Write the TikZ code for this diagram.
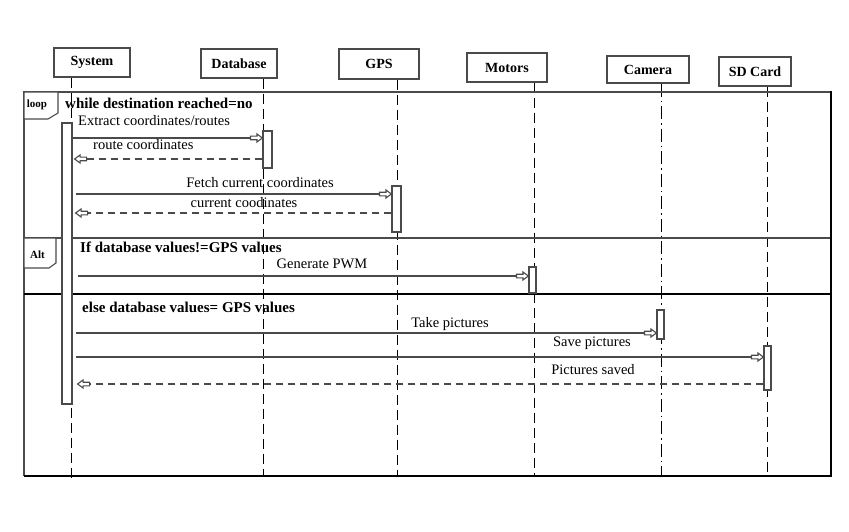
\documentclass[tikz,border=0pt]{standalone}
\usepackage{fontspec}
\setmainfont{Liberation Serif}
\usetikzlibrary{arrows.meta}
\pgfdeclarearrow{
  name = BlockOpen,
  setup code = {
    \pgfarrowssettipend{0pt}
    \pgfarrowssetlineend{-12pt}
    \pgfarrowssetbackend{-12pt}
    \pgfarrowssetvisualbackend{-12pt}
    \pgfarrowshullpoint{0pt}{0pt}
    \pgfarrowshullpoint{-12pt}{4pt}
    \pgfarrowshullpoint{-12pt}{-4pt}
  },
  drawing code = {
    \pgfsetdash{}{0pt}
    \pgfpathmoveto{\pgfpoint{0pt}{0pt}}
    \pgfpathlineto{\pgfpoint{-5.5pt}{4pt}}
    \pgfpathlineto{\pgfpoint{-5.5pt}{1.8pt}}
    \pgfpathlineto{\pgfpoint{-12pt}{1.8pt}}
    \pgfpathlineto{\pgfpoint{-12pt}{-1.8pt}}
    \pgfpathlineto{\pgfpoint{-5.5pt}{-1.8pt}}
    \pgfpathlineto{\pgfpoint{-5.5pt}{-4pt}}
    \pgfpathclose
    \pgfusepathqstroke
  }
}
\definecolor{ln}{HTML}{4A4A4A}
\tikzset{
  head/.style={draw=ln, line width=1.1pt, fill=white, inner sep=0pt,
    font=\fontsize{14}{16}\selectfont\bfseries},
  life/.style={draw=black, line width=1pt, dash pattern=on 10pt off 5pt},
  lifedd/.style={draw=black, line width=1pt, dash pattern=on 13pt off 4pt on 1.5pt off 4pt},
  act/.style={draw=ln, line width=1.1pt, fill=white, inner sep=0pt},
  msg/.style={draw=ln, line width=1.1pt, -{BlockOpen}},
  ret/.style={draw=ln, line width=1.1pt, dash pattern=on 7pt off 5pt, -{BlockOpen}},
  lbl/.style={inner sep=0pt, font=\fontsize{14.5}{17}\selectfont},
  cond/.style={inner sep=0pt, anchor=west, font=\fontsize{15}{17}\selectfont\bfseries},
  tag/.style={inner sep=0pt, font=\fontsize{11}{12}\selectfont\bfseries},
  frameline/.style={draw=ln, line width=1.1pt},
  thickline/.style={draw=black, line width=2pt}
}
\begin{document}
\begin{tikzpicture}[x=1pt,y=-1pt]
\useasboundingbox[fill=white] (0,0) rectangle (849,532);

% headers
\node[head, minimum width=76pt, minimum height=29pt] (sys) at (92,62.5) {System};
\node[head, minimum width=76pt, minimum height=29pt] (db) at (239,63.5) {Database};
\node[head, minimum width=80pt, minimum height=30pt] (gps) at (379,64) {GPS};
\node[head, minimum width=80pt, minimum height=29pt] (mot) at (507,67.5) {Motors};
\node[head, minimum width=82pt, minimum height=27pt] (cam) at (648,69.5) {Camera};
\node[head, minimum width=72pt, minimum height=29pt] (sd) at (755,71.5) {SD Card};

% lifeline ends
\coordinate (sysend) at (71,478);
\coordinate (dbend) at (263,476);
\coordinate (gpsend) at (397,476);
\coordinate (motend) at (534,476);
\coordinate (camend) at (661,476);
\coordinate (sdend) at (767,476);

\draw[life] (sys.south -| sysend) -- (sysend);
\draw[life] (db.south -| dbend) -- (dbend);
\draw[life] (gps.south -| gpsend) -- (gpsend);
\draw[life] (mot.south -| motend) -- (motend);
\draw[lifedd] (cam.south -| camend) -- (camend);
\draw[life] (sd.south -| sdend) -- (sdend);

% frames
\draw[frameline] (24,476) -- (24,92) -- (831,92);
\draw[frameline] (24,238) -- (831,238);
\draw[thickline] (24,294) -- (831,294);
\draw[draw=black, line width=1.8pt] (831,91.5) -- (831,476) -- (23.5,476);
\draw[frameline, fill=white] (24,92) -- (58,92) -- (58,113) -- (48,119) -- (24,119) -- cycle;
\draw[frameline, fill=white] (24,238) -- (56,238) -- (56,263) -- (49,268) -- (24,268) -- cycle;
\node[tag] (looptag) at (37,105) {loop};
\node[tag] (alttag) at (37.5,255) {Alt};

% activations
\node[act, minimum width=10pt, minimum height=281pt] (sysact) at (67,263.5) {};
\node[act, minimum width=9pt, minimum height=37pt] (dbact) at (267.5,149.5) {};
\node[act, minimum width=9pt, minimum height=46pt] (gpsact) at (396.5,209) {};
\node[act, minimum width=7pt, minimum height=26pt] (motact) at (532.5,280) {};
\node[act, minimum width=7pt, minimum height=29pt] (camact) at (660.5,324.5) {};
\node[act, minimum width=7pt, minimum height=44pt] (sdact) at (767.5,368) {};

% conditions
\node[cond] (c1) at (65,103) {while destination reached=no};
\node[cond] (c2) at (80,247) {If database values!=GPS values};
\node[cond] (c3) at (82,307) {else database values= GPS values};

% messages
\draw[msg] (sysact.east |- 0,138) -- (dbact.west |- 0,138);
\draw[ret] (dbact.west |- 0,159) -- ([xshift=2pt]sysact.east |- 0,159);
\draw[msg] ([xshift=3pt]sysact.east |- 0,194) -- (gpsact.west |- 0,194);
\draw[ret] (gpsact.west |- 0,213) -- ([xshift=3pt]sysact.east |- 0,213);
\draw[msg] ([xshift=5pt]sysact.east |- 0,276) -- (motact.west |- 0,276);
\draw[msg] ([xshift=3pt]sysact.east |- 0,333) -- (camact.west |- 0,333);
\draw[msg] ([xshift=3pt]sysact.east |- 0,357) -- (sdact.west |- 0,357);
\draw[ret] (sdact.west |- 0,384) -- ([xshift=5pt]sysact.east |- 0,384);

% message labels
\node[lbl, anchor=west] (m1) at (78,121) {Extract coordinates/routes};
\node[lbl, anchor=west] (m2) at (93,145) {route coordinates};
\node[lbl] (m3) at (260,183) {Fetch current coordinates};
\node[lbl] (m4) at (244,203) {current coodinates};
\node[lbl] (m5) at (322,264) {Generate PWM};
\node[lbl] (m6) at (450,324) {Take pictures};
\node[lbl] (m7) at (592,343) {Save pictures};
\node[lbl] (m8) at (593,370) {Pictures saved};
\end{tikzpicture}
\end{document}
